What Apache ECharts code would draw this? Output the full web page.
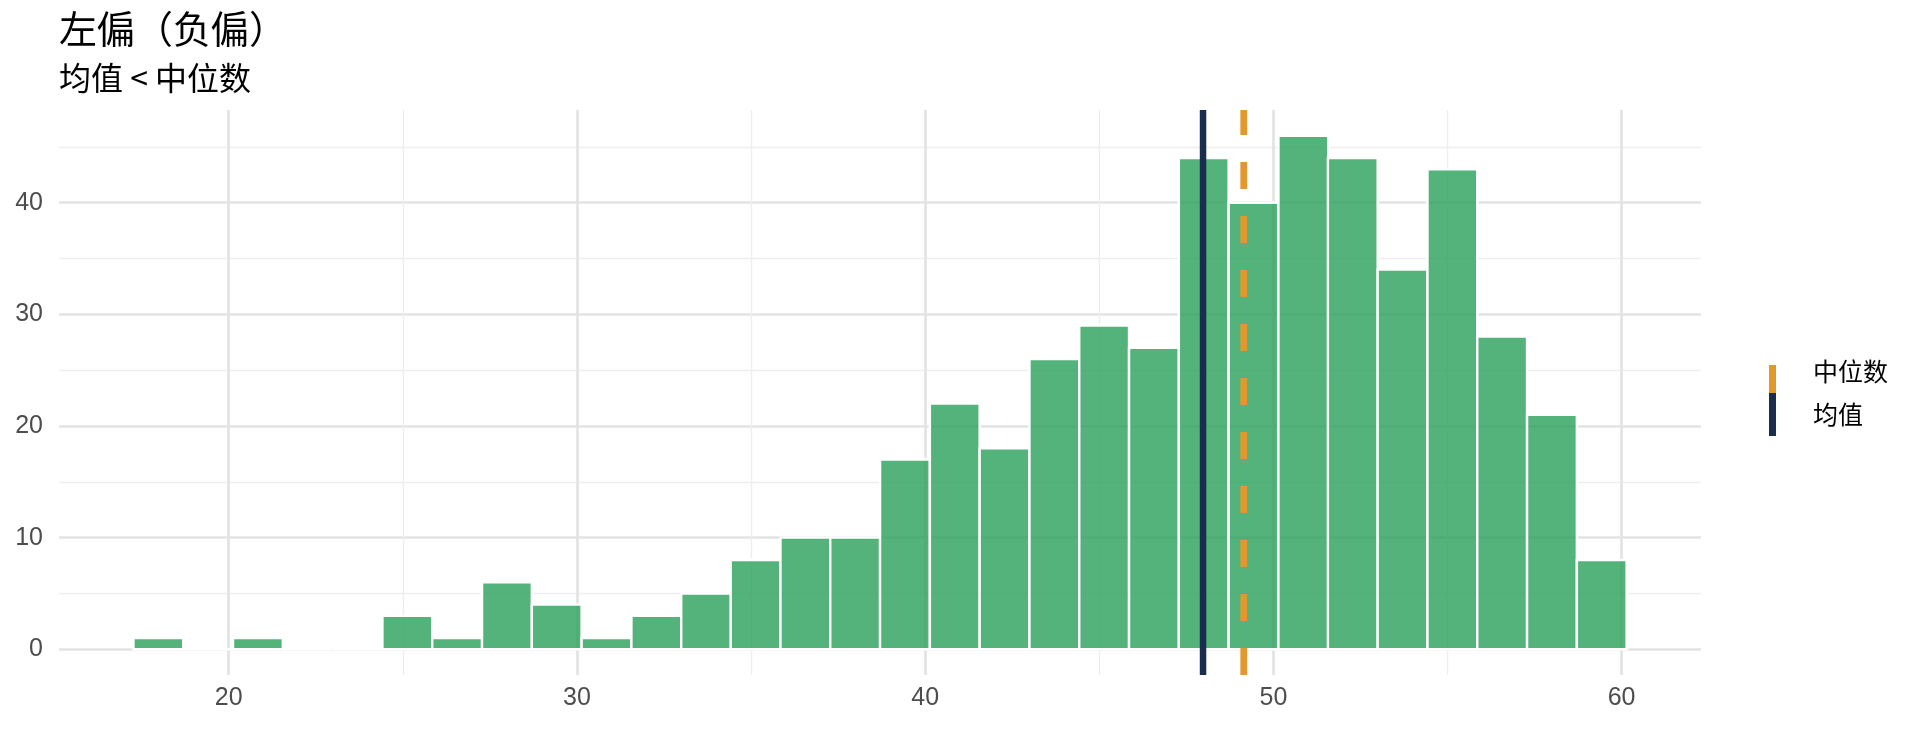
<!DOCTYPE html>
<html>
<head>
<meta charset="utf-8">
<script src="https://cdn.jsdelivr.net/npm/echarts@6/dist/echarts.min.js"></script>
<style>
html,body{margin:0;padding:0;background:#fff;}
#chart{width:1920px;height:729px;}
</style>
</head>
<body>
<div id="chart"></div>
<script>
// ---- data ----
const titleText = '左偏（负偏）';
const subtitleText = '均值 < 中位数';
const binCenters = [17.98, 19.41, 20.84, 22.27, 23.70, 25.13, 26.56, 27.99, 29.42, 30.85,
                    32.28, 33.71, 35.13, 36.56, 37.99, 39.42, 40.85, 42.28, 43.71, 45.14,
                    46.57, 48.00, 49.43, 50.86, 52.28, 53.71, 55.14, 56.57, 58.00, 59.43];
const counts = [1, 0, 1, 0, 0, 3, 1, 6, 4, 1,
                3, 5, 8, 10, 10, 17, 22, 18, 26, 29,
                27, 44, 40, 46, 44, 34, 43, 28, 21, 8];
const binWidth = 1.429;
const meanValue = 47.98;
const medianValue = 49.15;
const xMajorTicks = [20, 30, 40, 50, 60];
const xMinorTicks = [25, 35, 45, 55];
const yMajorTicks = [0, 10, 20, 30, 40];
const yMinorTicks = [5, 15, 25, 35, 45];
const xMin = 15.127, xMax = 62.28;
const yMin = -2.3, yMax = 48.3;

// ---- styles ----
const barFill = 'rgba(40,160,90,0.8)';
const meanColor = '#1B2D4E';
const medianColor = '#E2982C';
const majorGrid = '#E3E3E3';
const minorGrid = '#EEEEEE';
const axisTextColor = '#4D4D4D';

const chart = echarts.init(document.getElementById('chart'), null, {renderer: 'canvas'});

const histData = binCenters.map((c, i) => [c, counts[i]]);

const medianIcon = 'path://M0,0L7,0ZM0,15L7,15L7,43L0,43Z';

const option = {
  backgroundColor: '#ffffff',
  animation: false,
  title: [
    {text: titleText, left: 59, top: 10, padding: 0,
     textStyle: {fontFamily: 'Noto Sans CJK KR', fontSize: 38, fontWeight: 'normal', color: '#000'}},
    {text: subtitleText, left: 59, top: 62, padding: 0,
     textStyle: {fontFamily: 'Noto Sans CJK SC', fontSize: 32, fontWeight: 'normal', color: '#000'}}
  ],
  legend: {
    orient: 'vertical',
    left: 1769, top: 350,
    padding: 0,
    itemWidth: 7, itemHeight: 43, itemGap: 0,
    itemStyle: {borderWidth: 0},
    textStyle: {fontFamily: 'Noto Sans CJK SC', fontSize: 25, color: '#000', padding: [0, 0, 0, 32]},
    selectedMode: false,
    data: [
      {name: '中位数', icon: medianIcon, itemStyle: {color: medianColor, borderWidth: 0}},
      {name: '均值', icon: 'rect', itemStyle: {color: meanColor, borderWidth: 0}}
    ]
  },
  grid: {left: 59, right: 219, top: 110, bottom: 54, outerBoundsMode: 'none', containLabel: false},
  xAxis: [
    {type: 'value', min: xMin, max: xMax, gridIndex: 0, position: 'bottom',
     axisLine: {show: false}, axisTick: {show: false, customValues: xMajorTicks},
     axisLabel: {show: true, customValues: xMajorTicks, color: axisTextColor, fontFamily: 'Liberation Sans', fontSize: 25, margin: 11},
     splitLine: {show: true, lineStyle: {color: majorGrid, width: 2.7}}},
    {type: 'value', min: xMin, max: xMax, gridIndex: 0, position: 'bottom',
     axisLine: {show: false}, axisTick: {show: false, customValues: xMinorTicks},
     axisLabel: {show: false, customValues: xMinorTicks},
     splitLine: {show: true, lineStyle: {color: minorGrid, width: 1.4}}}
  ],
  yAxis: [
    {type: 'value', min: yMin, max: yMax, gridIndex: 0, position: 'left',
     axisLine: {show: false}, axisTick: {show: false, customValues: yMajorTicks},
     axisLabel: {show: true, customValues: yMajorTicks, color: axisTextColor, fontFamily: 'Liberation Sans', fontSize: 25, margin: 16},
     splitLine: {show: true, lineStyle: {color: majorGrid, width: 2.7}}},
    {type: 'value', min: yMin, max: yMax, gridIndex: 0, position: 'left',
     axisLine: {show: false}, axisTick: {show: false, customValues: yMinorTicks},
     axisLabel: {show: false, customValues: yMinorTicks},
     splitLine: {show: true, lineStyle: {color: minorGrid, width: 1.4}}}
  ],
  series: [
    {
      type: 'custom', name: 'hist', xAxisIndex: 0, yAxisIndex: 0, z: 2,
      data: histData,
      encode: {x: 0, y: 1},
      renderItem: function (params, api) {
        const c = api.value(0), n = api.value(1);
        const p0 = api.coord([c - binWidth / 2, n]);
        const p1 = api.coord([c + binWidth / 2, 0]);
        return {
          type: 'rect',
          shape: {x: p0[0], y: p0[1], width: p1[0] - p0[0], height: p1[1] - p0[1]},
          style: {fill: barFill, stroke: '#ffffff', lineWidth: 2.4}
        };
      }
    },
    {
      type: 'line', name: '中位数', xAxisIndex: 0, yAxisIndex: 0, z: 4,
      data: [[medianValue, yMin], [medianValue, yMax]],
      symbol: 'none', silent: true,
      itemStyle: {color: medianColor},
      lineStyle: {color: medianColor, width: 6.8, type: [27, 27], cap: 'butt'}
    },
    {
      type: 'line', name: '均值', xAxisIndex: 0, yAxisIndex: 0, z: 5,
      data: [[meanValue, yMin], [meanValue, yMax]],
      symbol: 'none', silent: true,
      itemStyle: {color: meanColor},
      lineStyle: {color: meanColor, width: 6.5, cap: 'butt'}
    }
  ]
};
chart.setOption(option);
</script>
</body>
</html>
